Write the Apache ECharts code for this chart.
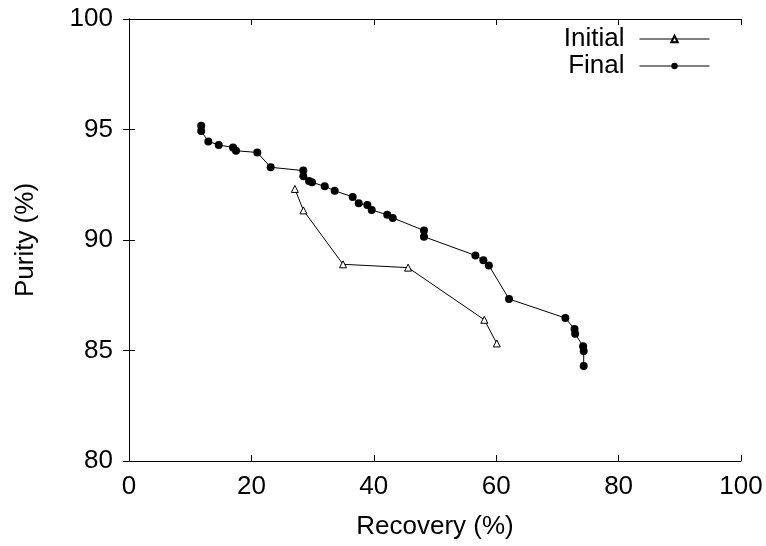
<!DOCTYPE html>
<html>
<head>
<meta charset="utf-8">
<script src="https://cdn.jsdelivr.net/npm/echarts@6/dist/echarts.min.js"></script>
<style>
  html, body { margin: 0; padding: 0; background: #fff; }
  #chart { width: 766px; height: 546px; }
</style>
</head>
<body>
<div id="chart"></div>
<script>
// [recovery %, purity %]
const initialData = [
  [27.1, 92.31], [28.5, 91.34], [34.97, 88.9], [45.6, 88.75], [58.06, 86.39], [60.1, 85.32]
]
const finalData = [
  [11.8, 95.17], [11.8, 94.93], [12.96, 94.46], [14.66, 94.3], [16.99, 94.19], [17.48, 94.04],
  [20.96, 93.96], [23.15, 93.29], [28.48, 93.14], [28.48, 92.88], [29.41, 92.67], [29.9, 92.61],
  [31.98, 92.43], [33.61, 92.23], [36.55, 91.95], [37.53, 91.66], [38.94, 91.58], [39.66, 91.36],
  [42.2, 91.14], [43.1, 91.0], [48.2, 90.43], [48.2, 90.15], [56.6, 89.3], [57.9, 89.08],
  [58.8, 88.85], [62.1, 87.33], [71.3, 86.47], [72.8, 85.97], [72.9, 85.76], [74.2, 85.19],
  [74.3, 84.98], [74.3, 84.3]
]
const seriesNames = ['Initial', 'Final']

const FONT = 'Liberation Sans'
const FS = 26
const chart = echarts.init(document.getElementById('chart'), null, { renderer: 'canvas' })

const tickStyle = { show: true, inside: true, length: 6, lineStyle: { color: '#000', width: 1 } }
const lineStyle = { show: true, lineStyle: { color: '#000', width: 1 } }

chart.setOption({
  animation: false,
  textStyle: { fontFamily: FONT, color: '#000' },
  grid: { left: 129, right: 25, top: 19, bottom: 85 },
  legend: {
    data: seriesNames,
    orient: 'vertical',
    align: 'right',
    right: 51,
    top: 21,
    itemWidth: 70,
    itemHeight: 8,
    itemGap: 1,
    lineStyle: { width: 1, color: '#000' },
    textStyle: { fontFamily: FONT, fontSize: FS, color: '#000', padding: [0, 10, 0, 0] },
  },
  xAxis: [
    {
      type: 'value', min: 0, max: 100, interval: 20,
      name: 'Recovery (%)', nameLocation: 'middle', nameGap: 53,
      nameTextStyle: { fontFamily: FONT, fontSize: FS, color: '#000' },
      axisLine: lineStyle, axisTick: tickStyle,
      axisLabel: { fontFamily: FONT, fontSize: FS, color: '#000', margin: 13 },
      splitLine: { show: false },
    },
    {
      type: 'value', min: 0, max: 100, interval: 20, position: 'top',
      axisLine: lineStyle, axisTick: tickStyle, axisLabel: { show: false }, splitLine: { show: false },
    },
  ],
  yAxis: [
    {
      type: 'value', min: 80, max: 100, interval: 5,
      name: 'Purity (%)', nameLocation: 'middle', nameGap: 90,
      nameTextStyle: { fontFamily: FONT, fontSize: FS, color: '#000' },
      axisLine: lineStyle, axisTick: tickStyle,
      axisLabel: { fontFamily: FONT, fontSize: FS, color: '#000', margin: 16 },
      splitLine: { show: false },
    },
    {
      type: 'value', min: 80, max: 100, interval: 5, position: 'right',
      axisLine: lineStyle, axisTick: tickStyle, axisLabel: { show: false }, splitLine: { show: false },
    },
  ],
  series: [
    {
      name: 'Initial', type: 'line', data: initialData,
      symbol: 'triangle', symbolSize: 7, showAllSymbol: true,
      lineStyle: { color: '#000', width: 1 },
      itemStyle: { color: '#fff', borderColor: '#000', borderWidth: 1 },
    },
    {
      name: 'Final', type: 'line', data: finalData,
      symbol: 'circle', symbolSize: 8, showAllSymbol: true,
      lineStyle: { color: '#000', width: 1 },
      itemStyle: { color: '#000', borderColor: '#000', borderWidth: 0 },
    },
  ],
})
</script>
</body>
</html>
